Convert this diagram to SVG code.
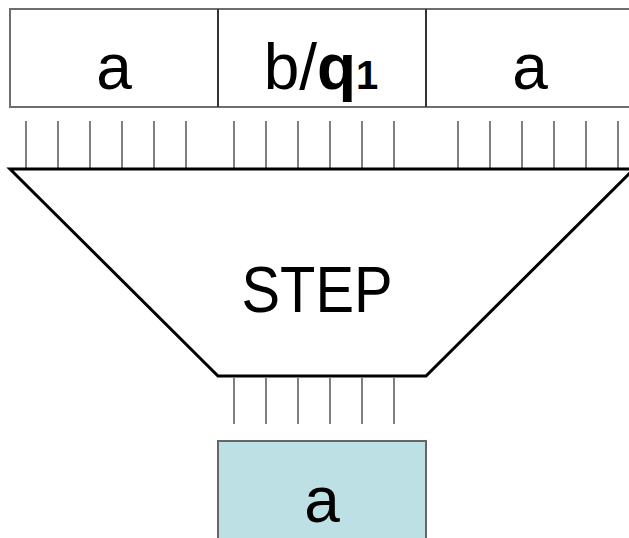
<svg xmlns="http://www.w3.org/2000/svg" width="629" height="538" viewBox="0 0 629 538">
<style>
.cell{fill:#fff;stroke:#6e6e6e;stroke-width:2}
.div{stroke:#333;stroke-width:2}
.tick{stroke:#808080;stroke-width:2}
.lbl{font-family:"Comic Sans MS","Liberation Sans",Arial,sans-serif;font-size:64px;fill:#000;text-anchor:middle}
</style>
<g id="tape">
<rect class="cell" x="10" y="9" width="624" height="98"/>
<line class="div" x1="218" y1="9" x2="218" y2="107"/>
<line class="div" x1="426" y1="9" x2="426" y2="107"/>
</g>
<g id="cell1"><text class="lbl" x="114" y="89">a</text></g>
<g id="cell2"><text class="lbl" x="321" y="89">b/<tspan font-weight="bold">q</tspan><tspan font-size="40px" font-weight="bold">1</tspan></text></g>
<g id="cell3"><text class="lbl" x="530" y="89">a</text></g>
<g id="connectors">
<g class="tick">
<line x1="26" y1="121" x2="26" y2="168"/><line x1="58" y1="121" x2="58" y2="168"/><line x1="90" y1="121" x2="90" y2="168"/><line x1="122" y1="121" x2="122" y2="168"/><line x1="154" y1="121" x2="154" y2="168"/><line x1="186" y1="121" x2="186" y2="168"/>
<line x1="234" y1="121" x2="234" y2="168"/><line x1="266" y1="121" x2="266" y2="168"/><line x1="298" y1="121" x2="298" y2="168"/><line x1="330" y1="121" x2="330" y2="168"/><line x1="362" y1="121" x2="362" y2="168"/><line x1="394" y1="121" x2="394" y2="168"/>
<line x1="458" y1="121" x2="458" y2="168"/><line x1="490" y1="121" x2="490" y2="168"/><line x1="522" y1="121" x2="522" y2="168"/><line x1="554" y1="121" x2="554" y2="168"/><line x1="586" y1="121" x2="586" y2="168"/><line x1="618" y1="121" x2="618" y2="168"/>
<line x1="234" y1="378" x2="234" y2="424"/><line x1="266" y1="378" x2="266" y2="424"/><line x1="298" y1="378" x2="298" y2="424"/><line x1="330" y1="378" x2="330" y2="424"/><line x1="362" y1="378" x2="362" y2="424"/><line x1="394" y1="378" x2="394" y2="424"/>
</g>
</g>
<g id="step">
<polygon points="10,169 634,169 426,376 218,376" fill="#fff" stroke="#000" stroke-width="3" stroke-linejoin="miter"/>
<text class="lbl" x="317" y="312" font-size="67px" textLength="151" lengthAdjust="spacingAndGlyphs">STEP</text>
</g>
<g id="output">
<rect x="218" y="441" width="208" height="110" fill="#bce0e3" stroke="#666" stroke-width="2"/>
<text class="lbl" x="322" y="522">a</text>
</g>
</svg>
